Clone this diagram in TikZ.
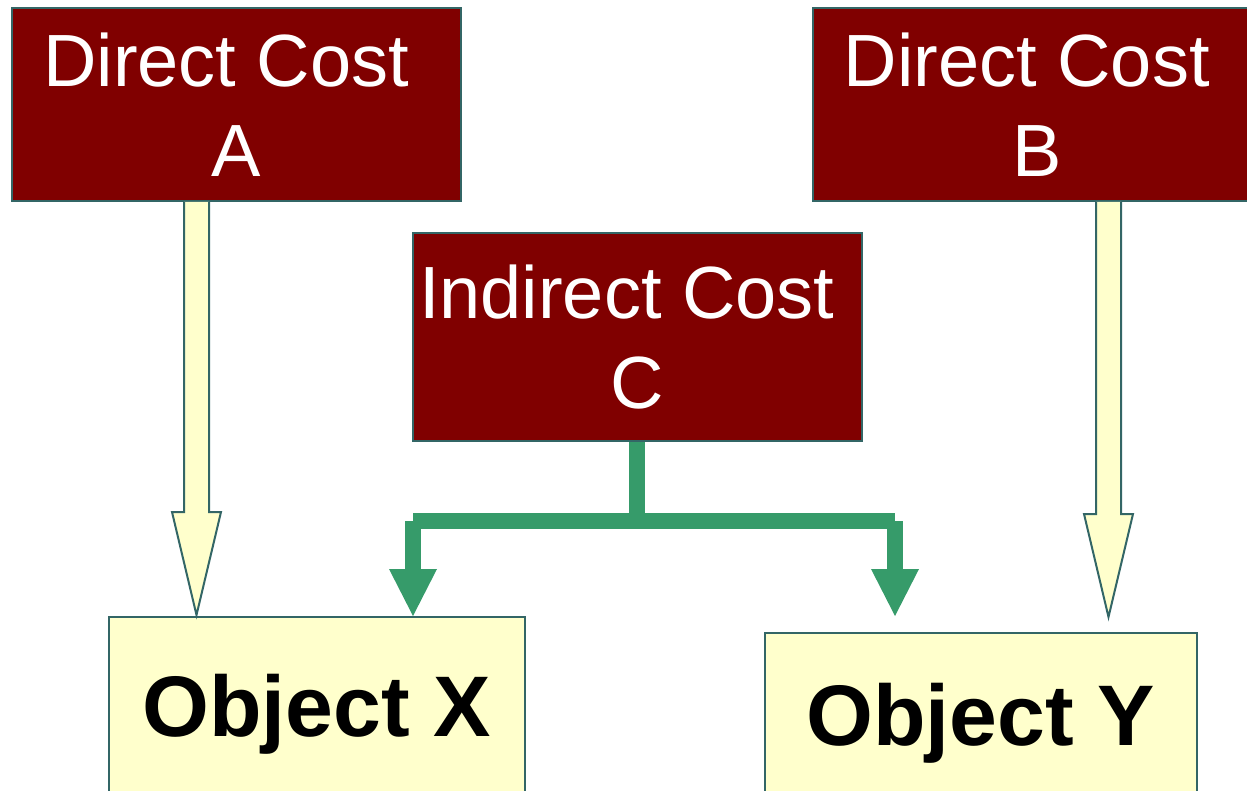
\documentclass[tikz,border=0pt]{standalone}
\usepackage{fontspec}
\setmainfont{Liberation Sans}
\usetikzlibrary{calc,arrows.meta}
\definecolor{edgec}{RGB}{51,102,102}
\definecolor{costfill}{RGB}{128,0,0}
\definecolor{objfill}{RGB}{255,255,204}
\definecolor{flowgreen}{RGB}{54,155,106}
\newcommand\hollowarrow[2]{%
  \draw[hollow] ($(#1)+(-12.5,0)$) -- ($(#2)+(-12.5,-103)$) -- ($(#2)+(-24.5,-103)$)
    -- (#2) -- ($(#2)+(24.5,-103)$) -- ($(#2)+(12.5,-103)$) -- ($(#1)+(12.5,0)$);}
\begin{document}
\begin{tikzpicture}[x=1pt,y=-1pt,
  costbox/.style={draw=edgec, line width=2pt, fill=costfill, text=white, align=center,
    inner sep=0pt, font=\fontsize{74}{90}\selectfont},
  objbox/.style={draw=edgec, line width=2pt, fill=objfill, text=black, inner sep=0pt,
    font=\bfseries\fontsize{86}{100}\selectfont, text height=62pt, text depth=0pt},
  hollow/.style={draw=edgec, fill=objfill, line width=2pt, line join=miter},
  flow/.style={draw=flowgreen, line width=15.5pt},
  flowarrow/.style={flow, -{Triangle[width=48pt,length=47pt,line width=0pt]}}]
\useasboundingbox (0,0) rectangle (1247,791);

\node[costbox, minimum width=449pt, minimum height=193pt] (A) at (236.5,104.5)
  {Direct Cost\hspace*{0.278em}\\A};
\node[costbox, minimum width=449pt, minimum height=193pt] (B) at (1037,104.5)
  {Direct Cost\hspace*{0.278em}\\B};
\node[costbox, minimum width=449pt, minimum height=208pt] (C) at (637,337)
  {Indirect Cost\hspace*{0.278em}\\C};
\node[objbox, minimum width=416.5pt, minimum height=178pt] (X) at (316.75,705.5) {Object X};
\node[objbox, minimum width=432pt, minimum height=162pt] (Y) at (980.7,714) {Object Y};

% hollow direct-cost arrows
\coordinate (aX) at (196.5,0);
\coordinate (aS) at (A.south -| aX);
\coordinate (aE) at (196.5,615);
\hollowarrow{aS}{aE}
\coordinate (bX) at (1108.5,0);
\coordinate (bS) at (B.south -| bX);
\coordinate (bE) at (1108.5,617);
\hollowarrow{bS}{bE}

% green indirect-cost allocation
\coordinate (gJ) at (637,521);
\coordinate (gL) at (413,521);
\coordinate (gR) at (895,521);
\coordinate (gLE) at (413,616);
\coordinate (gRE) at (895,616);
\draw[flow] (C.south) -- (gJ);
\draw[flow] (gL) -- (gR);
\draw[flowarrow] (gL) -- (gLE);
\draw[flowarrow] (gR) -- (gRE);
\end{tikzpicture}
\end{document}
